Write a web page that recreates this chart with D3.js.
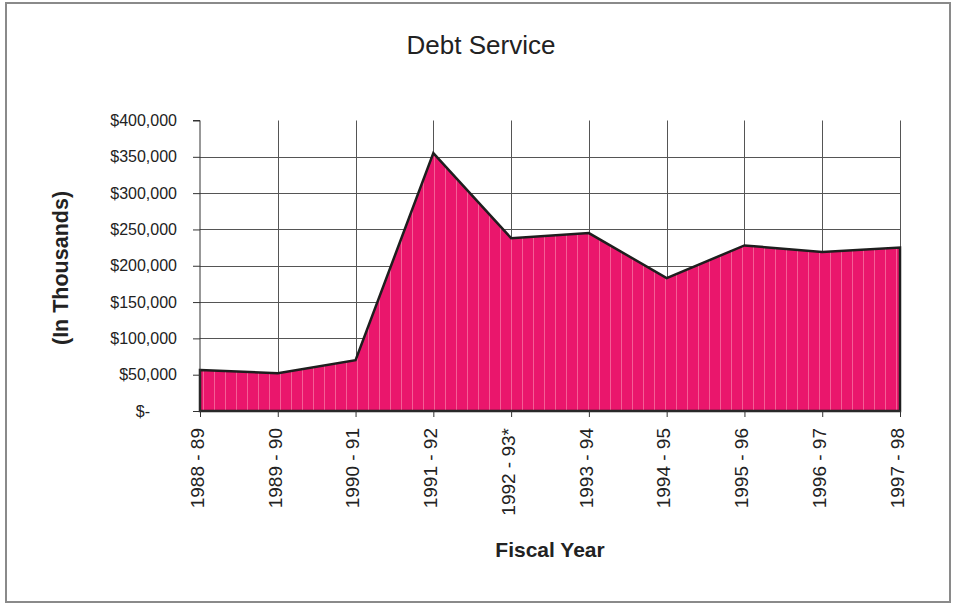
<!DOCTYPE html>
<html>
<head>
<meta charset="utf-8">
<script src="https://cdn.jsdelivr.net/npm/d3@7"></script>
<style>
  html, body { margin: 0; padding: 0; background: #fff; }
  svg { display: block; font-family: "Liberation Sans", Arial, sans-serif; }
</style>
</head>
<body>
<svg id="chart" width="957" height="605"></svg>
<script>
// Fiscal years on the category axis
const fiscalYears = ["1988 - 89", "1989 - 90", "1990 - 91", "1991 - 92", "1992 - 93*",
                     "1993 - 94", "1994 - 95", "1995 - 96", "1996 - 97", "1997 - 98"];
// Debt service, in thousands of dollars
const debtService = [56500, 52000, 70000, 355000, 238000, 245000, 183000, 228000, 219000, 225000];
// Value-axis ticks and their labels
const yTicks = [0, 50000, 100000, 150000, 200000, 250000, 300000, 350000, 400000];
const yTickLabels = ["$-", "$50,000", "$100,000", "$150,000", "$200,000",
                     "$250,000", "$300,000", "$350,000", "$400,000"];

const svg = d3.select("#chart");

// outer frame
svg.append("rect")
  .attr("x", 6).attr("y", 3).attr("width", 944).attr("height", 599)
  .attr("fill", "#fff").attr("stroke", "#8a8a8a").attr("stroke-width", 2);

const plotLeft = 200, plotRight = 900, plotTop = 120.5, plotBottom = 411;

const x = d3.scalePoint().domain(fiscalYears).range([plotLeft, plotRight]);
const y = d3.scaleLinear().domain([0, 400000]).range([plotBottom, plotTop]);

// striped fill for the area
const defs = svg.append("defs");
const pat = defs.append("pattern")
  .attr("id", "stripes").attr("patternUnits", "userSpaceOnUse")
  .attr("width", 11).attr("height", 8);
pat.append("rect").attr("width", 11).attr("height", 8).attr("fill", "#EA166C");
pat.append("rect").attr("x", 5).attr("width", 1).attr("height", 8)
  .attr("fill", "#F6709F").attr("opacity", 0.8);

// horizontal gridlines (50k .. 350k)
svg.append("g").selectAll("line")
  .data(yTicks.filter(v => v > 0 && v < 400000))
  .join("line")
  .attr("x1", plotLeft).attr("x2", plotRight)
  .attr("y1", d => Math.round(y(d)) + 0.5).attr("y2", d => Math.round(y(d)) + 0.5)
  .attr("stroke", "#555").attr("stroke-width", 1);

// vertical gridlines at each category
svg.append("g").selectAll("line")
  .data(fiscalYears.slice(1))
  .join("line")
  .attr("x1", d => Math.round(x(d)) + 0.5).attr("x2", d => Math.round(x(d)) + 0.5)
  .attr("y1", plotTop).attr("y2", plotBottom)
  .attr("stroke", "#555").attr("stroke-width", 1);

// area + outline
const area = d3.area()
  .x((d, i) => x(fiscalYears[i]))
  .y0(y(0))
  .y1(d => y(d));
svg.append("path")
  .datum(debtService)
  .attr("d", area)
  .attr("fill", "url(#stripes)")
  .attr("stroke", "#1e1e1e").attr("stroke-width", 2.5)
  .attr("stroke-linejoin", "miter");

// value axis
const yAxis = d3.axisLeft(y)
  .tickValues(yTicks)
  .tickSize(7)
  .tickPadding(16)
  .tickFormat((d, i) => yTickLabels[i]);
const gy = svg.append("g").attr("transform", `translate(${plotLeft},0)`).call(yAxis);
gy.select(".domain").attr("stroke", "#333").attr("d", `M-7,${plotTop}H0V${plotBottom}`);
gy.selectAll(".tick line").attr("stroke", "#333");
gy.selectAll(".tick text")
  .attr("font-size", 16).attr("fill", "#222")
  .attr("font-family", "Liberation Sans, Arial, sans-serif")
  .attr("dx", d => d === 0 ? -27 : 0);

// category axis
const xAxis = d3.axisBottom(x).tickSize(6).tickPadding(0);
const gx = svg.append("g").attr("transform", `translate(0,${plotBottom})`).call(xAxis);
gx.select(".domain").attr("stroke", "#333").attr("d", `M${plotLeft},0H${plotRight}`);
gx.selectAll(".tick line").attr("stroke", "#333");
gx.selectAll(".tick text")
  .attr("font-size", 19).attr("fill", "#222")
  .attr("font-family", "Liberation Sans, Arial, sans-serif")
  .attr("text-anchor", "end")
  .attr("transform", "rotate(-90)")
  .attr("x", -17).attr("y", 0).attr("dy", "0.17em");

// titles
svg.append("text")
  .attr("x", 481).attr("y", 53.5)
  .attr("text-anchor", "middle")
  .attr("font-size", 26).attr("fill", "#222")
  .text("Debt Service");

svg.append("text")
  .attr("transform", "translate(68,268) rotate(-90)")
  .attr("text-anchor", "middle")
  .attr("font-size", 21.5).attr("font-weight", "bold").attr("fill", "#222")
  .text("(In Thousands)");

svg.append("text")
  .attr("x", 550).attr("y", 557)
  .attr("text-anchor", "middle")
  .attr("font-size", 21).attr("font-weight", "bold").attr("fill", "#222")
  .text("Fiscal Year");
</script>
</body>
</html>
